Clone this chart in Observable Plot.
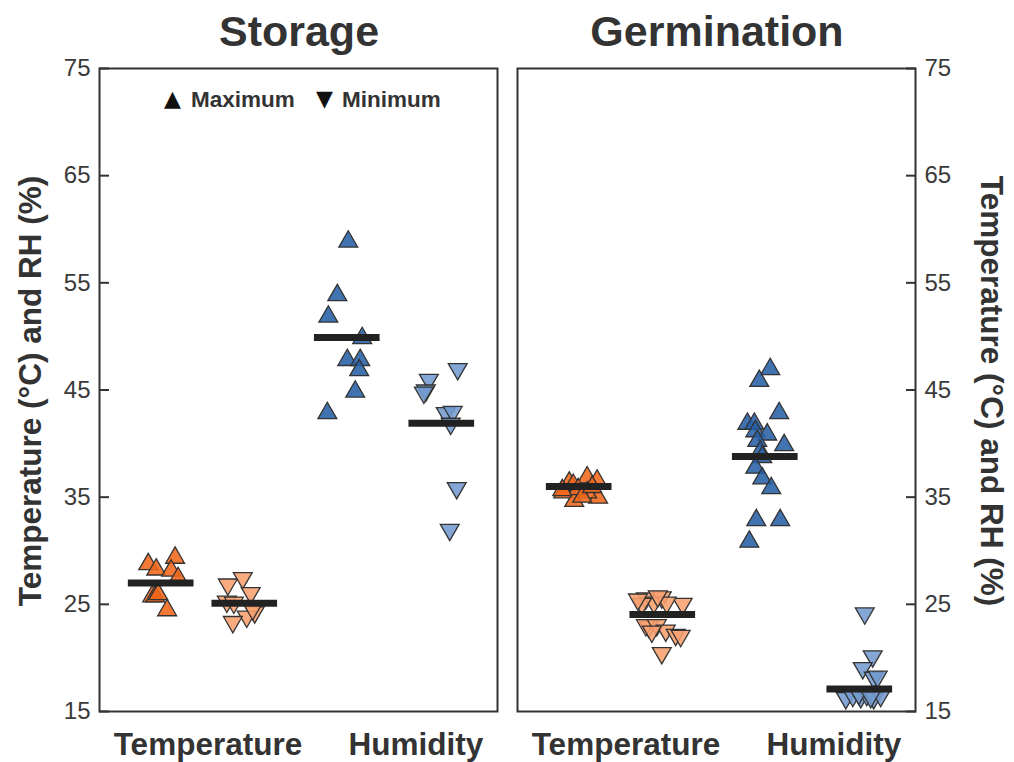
<!DOCTYPE html>
<html><head><meta charset="utf-8">
<script src="https://cdn.jsdelivr.net/npm/d3@7"></script>
<script src="https://cdn.jsdelivr.net/npm/@observablehq/plot@0.6"></script>
<style>
body{margin:0;background:#fff;font-family:"Liberation Sans",Arial,sans-serif;}
#wrap{position:relative;width:1014px;height:762px;overflow:hidden;background:#fff}
.panel{position:absolute;top:0}
.title{position:absolute;top:8px;font-size:43px;font-weight:bold;color:#333;transform:translateX(-50%);white-space:nowrap;line-height:46px}
.ylab{position:absolute;font-size:31.5px;font-weight:bold;color:#333;white-space:nowrap;line-height:34px}
.leg{position:absolute;font-size:22.5px;font-weight:bold;color:#333;white-space:nowrap;line-height:26px;top:87px}
.sym{font-family:"DejaVu Sans",sans-serif;font-size:22px;font-weight:normal;color:#111;top:86px}
</style></head>
<body><div id="wrap"></div>
<script>
const panelTitles = ["Storage", "Germination"];
const categories = ["Temperature", "Humidity"];
const categoryTicks = [1.09, 3.18];
const yTicks = [15, 25, 35, 45, 55, 65, 75];
const groups = ["Temperature maximum", "Temperature minimum", "Humidity maximum", "Humidity minimum"];
const groupColors = ["#F0661A", "#F9A070", "#2760A6", "#739BCF"];
const groupCenters = [0.62, 1.46, 2.49, 3.44];
const legendLabels = ["Maximum", "Minimum"];
const yLabel = "Temperature (°C) and RH (%)";

// Storage
const storageTempMaxY = [29.0, 29.6, 28.5, 28.4, 27.7, 26.0, 26.0, 26.2, 24.7];
const storageTempMaxX = [0.49, 0.76, 0.57, 0.72, 0.79, 0.53, 0.56, 0.59, 0.68];
const storageTempMinY = [26.6, 27.2, 25.8, 25.0, 24.9, 24.0, 23.6, 23.1, 24.3];
const storageTempMinX = [1.29, 1.44, 1.52, 1.28, 1.35, 1.56, 1.48, 1.34, 1.54];
const storageHumMaxY = [59.1, 54.1, 52.1, 50.1, 48.05, 48.05, 47.1, 45.1, 43.1];
const storageHumMaxX = [2.50, 2.39, 2.30, 2.64, 2.49, 2.62, 2.61, 2.57, 2.29];
const storageHumMinY = [46.7, 45.7, 44.7, 44.5, 42.6, 42.7, 41.6, 35.6, 31.7];
const storageHumMinX = [3.60, 3.31, 3.28, 3.26, 3.48, 3.55, 3.53, 3.59, 3.52];
const storageMeans = [27.0, 25.1, 49.9, 41.9];

// Germination
const germTempMaxY = [37.1, 36.8, 36.6, 36.4, 35.7, 34.9, 35.2, 35.7, 36.0, 35.9, 35.3, 36.2];
const germTempMaxX = [0.70, 0.80, 0.52, 0.56, 0.46, 0.57, 0.81, 0.70, 0.61, 0.45, 0.65, 0.75];
const germTempMinY = [25.3, 25.4, 24.9, 24.8, 24.8, 24.9, 22.65, 22.8, 22.8, 22.3, 21.9, 21.8, 22.2, 20.2, 25.5, 25.2];
const germTempMinX = [1.29, 1.45, 1.37, 1.25, 1.66, 1.50, 1.32, 1.29, 1.40, 1.49, 1.59, 1.64, 1.35, 1.45, 1.41, 1.21];
const germHumMaxY = [47.2, 46.1, 43.1, 42.1, 42.1, 41.4, 41.1, 40.5, 40.1, 39.5, 39.0, 38.0, 37.0, 36.1, 33.1, 33.1, 31.1];
const germHumMaxX = [2.54, 2.43, 2.63, 2.31, 2.38, 2.39, 2.51, 2.41, 2.68, 2.44, 2.46, 2.39, 2.46, 2.55, 2.40, 2.64, 2.33];
const germHumMinY = [23.9, 19.9, 18.8, 17.9, 18.0, 16.0, 16.2, 16.1, 16.3, 16.0, 16.2, 16.4, 16.1];
const germHumMinX = [3.49, 3.57, 3.47, 3.58, 3.62, 3.30, 3.37, 3.45, 3.51, 3.58, 3.65, 3.43, 3.55];
const germMeans = [36.0, 24.05, 38.8, 17.1];

function rows(xs, ys, g) { return ys.map((y, i) => ({x: xs[i], y, g})); }

const panelsData = [
  {max: [...rows(storageTempMaxX, storageTempMaxY, groups[0]), ...rows(storageHumMaxX, storageHumMaxY, groups[2])],
   min: [...rows(storageTempMinX, storageTempMinY, groups[1]), ...rows(storageHumMinX, storageHumMinY, groups[3])],
   means: storageMeans},
  {max: [...rows(germTempMaxX, germTempMaxY, groups[0]), ...rows(germHumMaxX, germHumMaxY, groups[2])],
   min: [...rows(germTempMinX, germTempMinY, groups[1]), ...rows(germHumMinX, germHumMinY, groups[3])],
   means: germMeans}
];

const halfBar = 0.33;
const wrap = document.getElementById("wrap");

panelsData.forEach((pd, k) => {
  const side = k === 0 ? "left" : "right";
  const meanRows = pd.means.map((m, i) => ({y: m, x1: groupCenters[i] - halfBar, x2: groupCenters[i] + halfBar}));
  const dotStyle = {x: "x", y: "y", fill: "g", symbol: "triangle", r: 7, stroke: "#333", strokeWidth: 1.3, fillOpacity: 0.88};
  const chart = Plot.plot({
    width: 507, height: 762,
    marginTop: 68, marginBottom: 51,
    marginLeft: side === "left" ? 99 : 10,
    marginRight: side === "left" ? 10 : 99,
    style: {fontFamily: "Liberation Sans, Arial, sans-serif", background: "#fff", color: "#333"},
    x: {domain: [0, 4]},
    y: {domain: [15, 75]},
    color: {domain: groups, range: groupColors},
    marks: [
      Plot.axisY({anchor: side, ticks: yTicks, tickSize: -10, tickPadding: 19, fontSize: 24, label: null, stroke: "#333", strokeWidth: 2, fill: "#3a3a3a"}),
      Plot.axisX({ticks: categoryTicks, tickFormat: d => categories[categoryTicks.indexOf(d)], tickSize: 0, tickPadding: 21, fontSize: 31.5, fontWeight: "bold", label: null, fill: "#333"}),
      Plot.dot(pd.max, {...dotStyle, dy: 2.75}),
      Plot.dot(pd.min, {...dotStyle, rotate: 180, dy: -2.75}),
      Plot.ruleY(meanRows, {y: "y", x1: "x1", x2: "x2", stroke: "#222", strokeWidth: 7}),
      Plot.frame({stroke: "#333", strokeWidth: 2})
    ]
  });
  chart.classList.add("panel");
  chart.style.left = (k * 507) + "px";
  wrap.appendChild(chart);

  const t = document.createElement("div");
  t.className = "title";
  t.textContent = panelTitles[k];
  t.style.left = (k === 0 ? 299 : 717) + "px";
  wrap.appendChild(t);

  const yl = document.createElement("div");
  yl.className = "ylab";
  yl.textContent = yLabel;
  yl.style.left = (k === 0 ? 30 : 992) + "px";
  yl.style.top = "391px";
  yl.style.transform = "translate(-50%,-50%) rotate(" + (k === 0 ? -90 : 90) + "deg)";
  wrap.appendChild(yl);
});

// legend
const legendItems = [["▲", 164, true], [legendLabels[0], 191, false], ["▼", 316, true], [legendLabels[1], 342, false]];
legendItems.forEach(([txt, x, sym]) => {
  const s = document.createElement("div");
  s.className = sym ? "leg sym" : "leg";
  s.textContent = txt;
  s.style.left = x + "px";
  wrap.appendChild(s);
});
</script></body></html>
